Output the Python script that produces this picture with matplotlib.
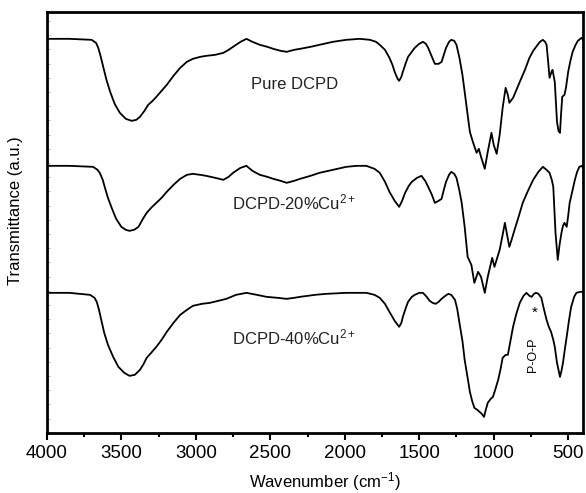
import numpy as np
import matplotlib
matplotlib.use('Agg')
import matplotlib.pyplot as plt
from matplotlib.ticker import MultipleLocator

plt.rcParams['font.family'] = ['Liberation Sans', 'DejaVu Sans']
plt.rcParams['mathtext.fontset'] = 'custom'
plt.rcParams['mathtext.rm'] = 'Liberation Sans'
plt.rcParams['mathtext.it'] = 'Liberation Sans'

# ── data (wavenumber in cm-1, transmittance in a.u., curves offset) ─────────
wn_pure = [4000, 3850, 3700, 3670, 3655, 3640, 3620, 3600, 3575, 3545, 3510,
           3470, 3430, 3400, 3375, 3345, 3320, 3290, 3265, 3230, 3195, 3150,
           3105, 3060, 3020, 2970, 2930, 2870, 2815, 2780, 2750, 2700, 2660,
           2620, 2570, 2520, 2480, 2430, 2390, 2340, 2300, 2230, 2170, 2080,
           1990, 1900, 1830, 1790, 1765, 1730, 1700, 1680, 1665, 1645, 1635,
           1620, 1610, 1590, 1575, 1550, 1530, 1500, 1475, 1455, 1440, 1415,
           1395, 1370, 1350, 1335, 1320, 1300, 1285, 1265, 1250, 1230, 1210,
           1195, 1175, 1160, 1140, 1115, 1100, 1085, 1060, 1040, 1015, 1000,
           980, 960, 940, 920, 905, 895, 870, 850, 825, 790, 760, 735, 715,
           690, 670, 655, 645, 635, 625, 612, 605, 590, 575, 565, 555, 548,
           540, 525, 515, 500, 485, 470, 450, 435, 410, 400]
t_pure = [394, 394, 393, 390, 385, 377, 365, 353, 341, 329, 320,
          314, 312, 313, 316, 322, 328, 332, 336, 342, 348, 357,
          365, 371, 374, 376, 377, 378, 380, 383, 386, 391, 394,
          391, 388, 386, 384, 382, 381, 383, 384, 386, 388, 391,
          393, 394, 393, 391, 388, 383, 375, 368, 361, 354, 352,
          356, 361, 370, 376, 381, 385, 389, 391, 389, 385, 376,
          369, 369, 371, 378, 385, 391, 393, 392, 388, 375, 358,
          341, 318, 301, 291, 280, 284, 276, 264, 281, 300, 288,
          279, 298, 325, 345, 338, 330, 335, 342, 351, 363, 375, 382, 386,
          391, 393, 391, 388, 372, 355, 361, 363, 351, 311, 302, 300, 318,
          336, 338, 345, 361, 372, 381, 388, 392, 395, 393]

wn_20 = [4000, 3850, 3690, 3660, 3645, 3625, 3610, 3590, 3565, 3535, 3500,
         3470, 3445, 3415, 3385, 3355, 3330, 3300, 3265, 3230, 3195, 3150,
         3105, 3060, 3020, 2970, 2930, 2870, 2815, 2780, 2750, 2700, 2660,
         2620, 2570, 2520, 2480, 2430, 2390, 2340, 2300, 2230, 2170, 2080,
         1990, 1920, 1855, 1800, 1765, 1730, 1700, 1665, 1635, 1615, 1595,
         1570, 1550, 1515, 1485, 1460, 1440, 1415, 1395, 1370, 1350, 1335,
         1320, 1300, 1285, 1265, 1250, 1230, 1215, 1195, 1175, 1150, 1130,
         1105, 1085, 1060, 1040, 1010, 995, 960, 940, 925, 910, 895, 880,
         860, 835, 805, 770, 735, 700, 670, 645, 625, 610, 600, 585, 570,
         558, 545, 535, 525, 510, 500, 490, 470, 455, 440, 425, 410, 400]
t_20 = [267, 267, 266, 263, 260, 253, 245, 235, 225, 214, 206,
        203, 202, 203, 206, 214, 220, 225, 230, 235, 241, 248,
        254, 258, 259, 258, 257, 255, 253, 256, 260, 265, 267,
        262, 258, 256, 254, 252, 250, 252, 254, 257, 260, 263,
        266, 267, 267, 264, 260, 251, 241, 232, 226, 232, 240,
        247, 251, 255, 257, 252, 246, 238, 230, 232, 234, 243,
        251, 258, 261, 259, 255, 242, 230, 206, 176, 168, 150,
        161, 156, 140, 156, 175, 166, 183, 198, 210, 198, 186, 193,
        203, 215, 230, 242, 253, 261, 266, 263, 260, 253, 246, 200, 173,
        188, 200, 207, 210, 206, 217, 230, 243, 253, 261, 266, 267, 265]

wn_40 = [4000, 3850, 3710, 3680, 3665, 3650, 3635, 3615, 3590, 3555, 3520,
         3480, 3445, 3410, 3375, 3350, 3330, 3300, 3265, 3230, 3195, 3150,
         3105, 3060, 3020, 2960, 2905, 2850, 2795, 2730, 2660, 2590, 2525,
         2450, 2390, 2340, 2300, 2200, 2125, 1990, 1855, 1800, 1765, 1730,
         1700, 1665, 1635, 1620, 1610, 1590, 1575, 1550, 1530, 1500, 1475,
         1450, 1430, 1410, 1390, 1370, 1350, 1325, 1305, 1285, 1260, 1245,
         1230, 1210, 1195, 1175, 1160, 1145, 1130, 1110, 1095, 1080, 1065,
         1055, 1040, 1020, 1005, 990, 970, 955, 940, 920, 905, 890, 870,
         850, 825, 800, 780, 760, 745, 730, 715, 700, 680, 665, 645, 630,
         615, 600, 590, 575, 555, 545, 535, 520, 510, 495, 480, 460, 445,
         420, 400]
t_40 = [140, 140, 138, 135, 131, 123, 113, 100, 88, 76, 66,
        60, 57, 58, 63, 69, 75, 80, 86, 93, 101, 110,
        118, 123, 127, 129, 130, 132, 134, 138, 140, 138, 136,
        135, 134, 135, 136, 138, 139, 140, 140, 138, 135, 129,
        121, 112, 106, 110, 116, 125, 131, 136, 138, 140, 140,
        136, 132, 130, 129, 131, 134, 137, 139, 138, 133, 124,
        110, 92, 73, 55, 41, 32, 25, 23, 21, 19, 16,
        22, 30, 34, 36, 43, 53, 63, 75, 78, 78, 90, 106,
        118, 130, 137, 140, 137, 136, 139, 140, 139, 135, 125, 113, 106,
        101, 93, 86, 70, 56, 62, 70, 86, 96, 112, 126, 136, 140,
        141, 141]

labels = ['Pure DCPD', 'DCPD-20%Cu$^{2+}$', 'DCPD-40%Cu$^{2+}$']
label_y = [348, 230, 95]

x_ticks = [4000, 3500, 3000, 2500, 2000, 1500, 1000, 500]

# ── figure ──────────────────────────────────────────────────────────────────
fig = plt.figure(figsize=(5.86, 4.93), dpi=100)
ax = fig.add_axes([0.080, 0.122, 0.915, 0.854])

curves = [(wn_pure, t_pure), (wn_20, t_20), (wn_40, t_40)]
for (wn, t), label, ly in zip(curves, labels, label_y):
    ax.plot(wn, t, color='black', lw=1.3, solid_joinstyle='round')
    ax.text(2340, ly, label, fontsize=12, ha='center', va='center',
            color='#222222')

# P-O-P band marker on the 40% curve
ax.text(722, 120, '*', fontsize=11, ha='center', va='center')
ax.text(735, 78, 'P-O-P', fontsize=9, rotation=90, ha='center', va='center')

ax.set_xlim(4000, 400)
ax.set_ylim(0, 421)
ax.set_xticks(x_ticks)
ax.xaxis.set_minor_locator(MultipleLocator(250))
ax.yaxis.set_minor_locator(MultipleLocator(14.2))
ax.set_yticks([])
ax.tick_params(axis='x', which='major', direction='out', length=5, width=1.5,
               labelsize=13.5, pad=4)
ax.tick_params(axis='x', which='minor', direction='out', length=3, width=1.5)
ax.tick_params(axis='y', which='minor', direction='in', length=2, width=0.5,
               color='#999999')

for sp in ax.spines.values():
    sp.set_linewidth(2.0)

ax.set_xlabel('Wavenumber (cm$^{-1}$)', fontsize=12)
ax.xaxis.set_label_coords(0.519, -0.088)
ax.set_ylabel('Transmittance (a.u.)', fontsize=12)
ax.yaxis.set_label_coords(-0.045, 0.527)

plt.savefig('out.png', dpi=100)
